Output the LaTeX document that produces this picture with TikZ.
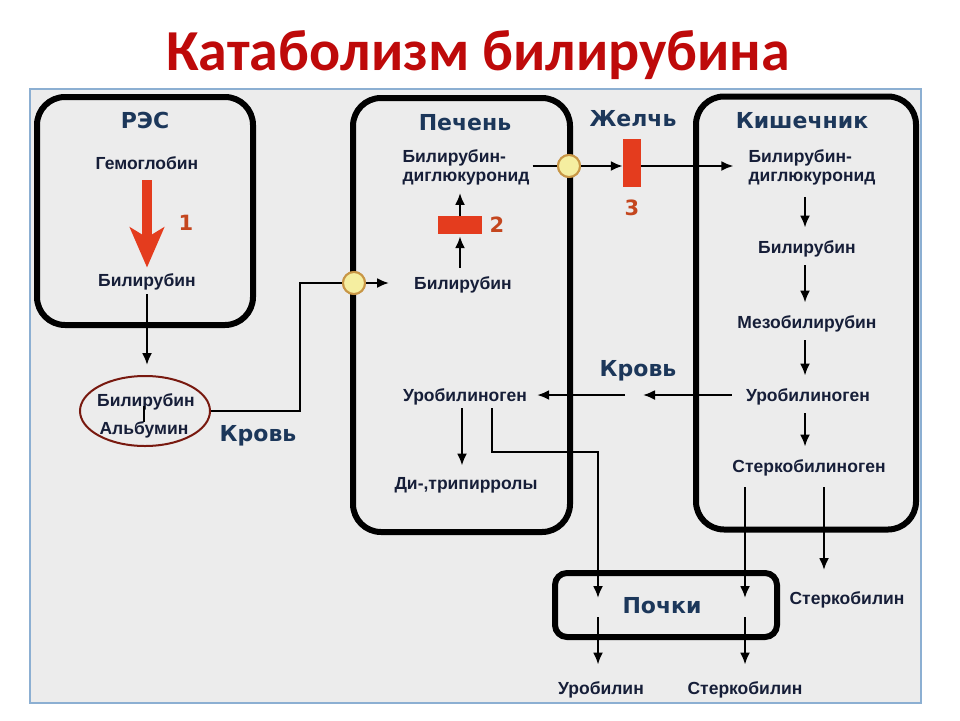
\documentclass[tikz,border=0pt]{standalone}
\usepackage{fontspec}
\setmainfont{Liberation Sans}
\newfontfamily\titlefont{Carlito}
\newfontfamily\hdfont{DejaVu Sans}
\usetikzlibrary{arrows.meta,shapes.geometric,calc}
\definecolor{ttlred}{RGB}{190,10,10}
\definecolor{navy}{RGB}{22,30,56}
\definecolor{hdblue}{RGB}{28,55,90}
\definecolor{panelbg}{RGB}{236,236,236}
\definecolor{panelbd}{RGB}{140,175,210}
\definecolor{enzred}{RGB}{228,60,30}
\definecolor{numred}{RGB}{196,70,30}
\definecolor{ellred}{RGB}{120,25,15}
\definecolor{cyel}{RGB}{245,238,160}
\definecolor{cbrd}{RGB}{200,150,70}
\begin{document}
\begin{tikzpicture}[x=1pt,y=-1pt,
  box/.style={draw=black, line width=6pt, rounded corners=28pt, inner sep=0},
  lbl/.style={font=\bfseries\fontsize{17.5}{19}\selectfont, text=navy, inner sep=0, text height=12.5pt, text depth=0pt},
  lbl2/.style={font=\bfseries\fontsize{17.5}{19}\selectfont, text=navy, inner sep=0, align=left},
  hd/.style={font=\hdfont\bfseries\fontsize{22}{24}\selectfont, text=hdblue, inner sep=0, text height=16pt, text depth=0pt},
  num/.style={font=\hdfont\bfseries\fontsize{21}{22}\selectfont, text=numred, inner sep=0, text height=15pt, text depth=0pt},
  enz/.style={fill=enzred, inner sep=0},
  junc/.style={circle, fill=cyel, draw=cbrd, line width=2pt, minimum size=22pt, inner sep=0},
  wire/.style={line width=2.1pt},
  conn/.style={wire, -{Latex[length=12pt,width=10pt]}}
]
\useasboundingbox (0,0) rectangle (960,720);
\fill[white] (0,0) rectangle (960,720);
\node[font=\titlefont\bfseries\fontsize{58}{60}\selectfont, text=ttlred, anchor=base, inner sep=0] (title) at (478,70) {Катаболизм билирубина};
\node[draw=panelbd, fill=panelbg, line width=2.5pt, minimum width=891pt, minimum height=614pt, inner sep=0] (panel) at (475.5,396) {};

% boxes
\node[box, minimum width=216pt, minimum height=228pt] (res) at (145,211) {};
\node[box, minimum width=217pt, minimum height=434pt] (liver) at (461.5,315) {};
\node[box, minimum width=220pt, minimum height=433pt] (gut) at (806,313) {};
\node[box, rounded corners=12pt, minimum width=222pt, minimum height=64pt] (kid) at (666,605) {};

% RES
\node[hd] (resT) at (145,120) {РЭС};
\node[lbl] (gem) at (147,163) {Гемоглобин};
\node[lbl] (rbil) at (147,280) {Билирубин};
\draw[enzred, line width=10pt, shorten <=11pt, shorten >=6pt, -{Stealth[length=40pt,width=34pt,inset=10pt]}] (gem) -- (rbil);
\node[num] (n1) at (186,223) {1};

% albumin
\node[ellipse, draw=ellred, line width=2pt, minimum width=130pt, minimum height=70pt, inner sep=0] (alb) at (145,411) {};
\node[lbl] (ebil) at (146,400) {Билирубин};
\node[lbl] (ealb) at (144,428) {Альбумин};
\draw[line width=1.2pt] (ebil.south -| ealb) -- (ealb.north);
\draw[conn, shorten <=8pt, shorten >=10pt] (rbil.south) -- (rbil.south |- alb.north);
\node[hd] (krov1) at (258,433) {Кровь};

% into liver
\coordinate (k1b) at (300,283);
\coordinate (lin) at (389,283);
\node[junc] (c1) at (354,283) {};
\draw[wire] (alb.east) -| (k1b) -- (c1);
\draw[conn] (c1) -- (lin);

% liver
\node[hd] (livT) at (465,122) {Печень};
\node[lbl2] (lbdg) at (466,167) {Билирубин-\\диглюкуронид};
\node[enz, minimum width=44pt, minimum height=18pt] (e2) at (460,225) {};
\node[num] (n2) at (497,225) {2};
\node[lbl] (lbil) at (463,283) {Билирубин};
\draw[conn, shorten <=9pt, shorten >=2pt] (lbil.north -| e2) -- (e2.south);
\draw[conn, shorten >=8pt] (e2.north) -- (e2 |- lbdg.south);
\node[enz, minimum width=44pt, minimum height=18pt] at (e2) {};

% bile
\node[junc] (c2) at (569,166) {};
\node[enz, minimum width=18pt, minimum height=48pt] (e3) at (632,163) {};
\node[hd] (bile) at (633,118) {Желчь};
\node[num] (n3) at (632,208) {3};

% gut
\node[hd] (gutT) at (802,120) {Кишечник};
\node[lbl2] (kbdg) at (812,167) {Билирубин-\\диглюкуронид};
\node[lbl] (kbil) at (807,247) {Билирубин};
\node[lbl] (kmes) at (807,322) {Мезобилирубин};
\node[lbl] (kuro) at (808,395) {Уробилиноген};
\node[lbl] (kster) at (809,466) {Стеркобилиноген};
\coordinate (kx) at (805,0);
\draw[conn, shorten <=12pt, shorten >=13pt] (kbdg.south -| kx) -- (kbil.north -| kx);
\draw[conn, shorten <=12pt, shorten >=13pt] (kbil.south -| kx) -- (kmes.north -| kx);
\draw[conn, shorten <=12pt, shorten >=13pt] (kmes.south -| kx) -- (kuro.north -| kx);
\draw[conn, shorten <=12pt, shorten >=13pt] (kuro.south -| kx) -- (kster.north -| kx);

\draw[wire, shorten <=3pt] (lbdg.east |- c2) -- (c2);
\draw[conn] (c2) -- (e3.west |- c2);
\draw[conn, shorten >=15pt] (e3.east |- c2) -- (kbdg.west |- c2);
\node[junc] at (c2) {};
\node[junc] at (c1) {};
\node[enz, minimum width=18pt, minimum height=48pt] at (e3) {};

% blood back
\coordinate (bl1) at (643,395);
\coordinate (bl2) at (625,395);
\coordinate (lx) at (462,0);
\node[hd] (krov2) at (638,368) {Кровь};
\node[lbl] (luro) at (465,395) {Уробилиноген};
\node[lbl] (ltri) at (466,483) {Ди-,трипирролы};
\draw[conn, shorten <=14pt] (kuro.west) -- (bl1);
\draw[conn, shorten >=10pt] (bl2) -- (luro.east);
\draw[conn, shorten <=7pt, shorten >=11pt] (luro.south -| lx) -- (ltri.north -| lx);

% kidneys
\node[hd] (kidT) at (662,605) {Почки};
\coordinate (p1top) at (598,452);
\coordinate (p1in) at (598,598);
\coordinate (p1out) at (598,617);
\coordinate (p2in) at (745,598);
\coordinate (p2out) at (745,617);
\coordinate (sR) at (824,570);
\node[lbl] (urob) at (601,688) {Уробилин};
\node[lbl] (sterb) at (745,688) {Стеркобилин};
\node[lbl] (sterR) at (847,598) {Стеркобилин};
\draw[conn, shorten <=7pt] ([xshift=27pt]luro.south) |- (p1top) -- (p1in);
\draw[conn, shorten >=17pt] (p1out) -- (p1out |- urob.north);
\draw[conn, shorten <=15pt] (kster.south -| p2in) -- (p2in);
\draw[conn, shorten >=17pt] (p2out) -- (p2out |- sterb.north);
\draw[conn, shorten <=15pt] (kster.south -| sR) -- (sR);
\end{tikzpicture}
\end{document}
